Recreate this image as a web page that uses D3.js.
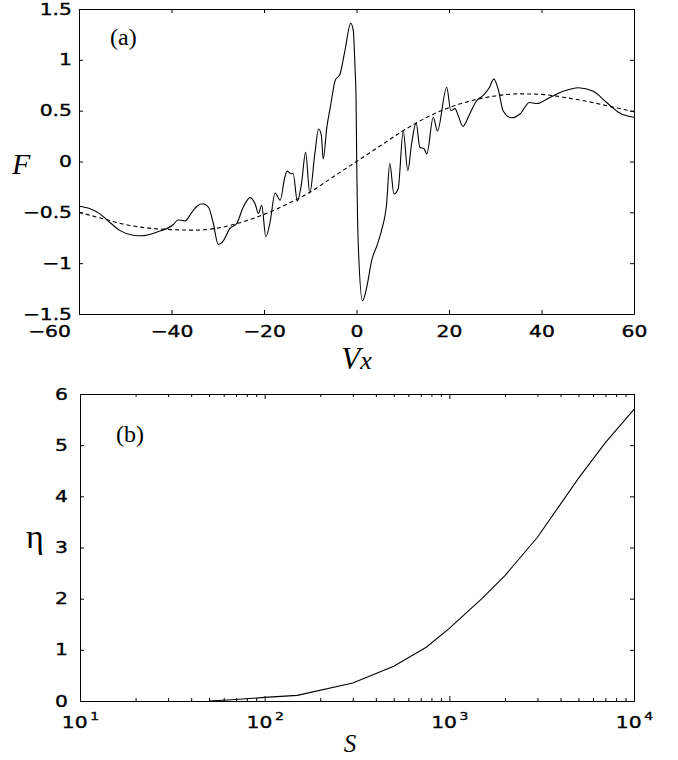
<!DOCTYPE html>
<html>
<head>
<meta charset="utf-8">
<script src="https://cdn.jsdelivr.net/npm/d3@7"></script>
<style>
	body { margin:0; background:#fff; }
	svg { display:block; }
	.domain, .tick line { stroke:#000; }
</style>
</head>
<body>
<svg id="chart" width="678" height="760"></svg>
<script>
// panel (a): F against Vx
const vxSolid = [-60,-57.6,-55.5,-53.3,-51.1,-48.3,-46.5,-43.2,-39.6,-38.6,-37.9,-37.1,-35.6,-34.5,-33.3,-32,-31,-29.9,-28.8,-27.4,-25.9,-24.5,-23,-21.9,-21.2,-20.5,-19.6,-18.7,-17.6,-16.5,-15.5,-15,-14.2,-13.7,-12.8,-11.9,-11,-10.1,-9,-8.2,-7.6,-7.2,-6.4,-5.6,-4.6,-3.6,-2.5,-1.25,-0.7,-0.3,-0.1,0.05,0.4,1.3,2.2,3.3,4.4,5.4,6.5,7.2,8.1,9,10.1,11.1,11.9,12.9,13.7,14.6,15.2,16.6,17.5,19.5,20.4,21.3,22,23,24.5,26,27.4,28.7,29.7,30.7,31.7,33.5,35.4,37.4,39,41.8,44.7,48,51.2,54.1,57,60];
const fSolid = [-0.44,-0.465,-0.515,-0.60,-0.68,-0.725,-0.73,-0.695,-0.62,-0.575,-0.578,-0.585,-0.50,-0.44,-0.415,-0.45,-0.60,-0.815,-0.78,-0.66,-0.61,-0.45,-0.355,-0.42,-0.51,-0.43,-0.74,-0.60,-0.31,-0.38,-0.155,-0.095,-0.12,-0.115,-0.39,-0.22,0.09,-0.31,0.08,0.32,0.26,0.025,0.34,0.55,0.80,0.855,1.09,1.36,1.29,0.9,0.63,0,-0.84,-1.37,-1.24,-0.97,-0.83,-0.68,-0.42,-0.02,-0.32,-0.27,0.30,-0.09,0.17,0.38,0.14,0.125,0.075,0.435,0.30,0.73,0.50,0.52,0.45,0.345,0.47,0.60,0.65,0.725,0.81,0.70,0.50,0.43,0.47,0.58,0.57,0.63,0.69,0.725,0.69,0.58,0.475,0.435];
const vxDashed = [-60,-55,-50,-45,-40,-35,-30,-25,-20,-15,-10,-5,0,5,10,15,20,25,30,35,40,45,50,55,60];
const fDashed = [-0.50,-0.56,-0.62,-0.655,-0.67,-0.675,-0.655,-0.60,-0.52,-0.42,-0.30,-0.15,0,0.15,0.30,0.43,0.53,0.60,0.645,0.665,0.66,0.63,0.59,0.54,0.49];
const vxTicks = [-60,-40,-20,0,20,40,60];
const fTicks = [-1.5,-1,-0.5,0,0.5,1,1.5];

// panel (b): eta against S (log axis)
const sValues = [50,70,100,150,300,500,750,1000,1500,2000,3000,5000,7000,10000];
const etaValues = [0,0.03,0.07,0.11,0.35,0.68,1.05,1.42,2.0,2.45,3.2,4.35,5.05,5.7];
const sTicks = [10,100,1000,10000];
const etaTicks = [0,1,2,3,4,5,6];

const svg = d3.select('#chart');
const STRETCH = 1.27; // tick labels are drawn wide in the original

// tick label look: wide, slightly heavy sans digits
function styleLabels(g, dx) {
	g.selectAll('.tick text')
		.attr('font-family','DejaVu Sans')
		.attr('font-size',16)
		.attr('fill','#000')
		.attr('stroke','#000')
		.attr('stroke-width',0.35)
		.attr('transform','scale('+STRETCH+',1)');
	if (dx !== undefined) g.selectAll('.tick text').attr('x', dx/STRETCH);
}

// ---------- (a) ----------
const A = {left:79, right:634, top:9, bottom:314};
const xA = d3.scaleLinear().domain([-60,60]).range([A.left,A.right]);
const yA = d3.scaleLinear().domain([-1.5,1.5]).range([A.bottom,A.top]);

const gA = svg.append('g');
const axA = gA.append('g').attr('transform',`translate(0,${A.bottom})`)
	.call(d3.axisBottom(xA).tickValues(vxTicks).tickSizeInner(-4).tickSizeOuter(0).tickPadding(12).tickFormat(d3.format('d')));
styleLabels(axA);
// the -60 label sits left of the frame in the original
axA.selectAll('.tick text').filter(d => d === -60).attr('x', -30/STRETCH);
gA.append('g').attr('transform',`translate(0,${A.top})`)
	.call(d3.axisTop(xA).tickValues(vxTicks).tickSizeInner(-4).tickSizeOuter(0).tickFormat(''));
const ayA = gA.append('g').attr('transform',`translate(${A.left},0)`)
	.call(d3.axisLeft(yA).tickValues(fTicks).tickSizeInner(-4).tickSizeOuter(0).tickFormat(d3.format('')));
styleLabels(ayA, -7);
gA.append('g').attr('transform',`translate(${A.right},0)`)
	.call(d3.axisRight(yA).tickValues(fTicks).tickSizeInner(-4).tickSizeOuter(0).tickFormat(''));
gA.selectAll('.tick text').text(function() { return d3.select(this).text().replace('-','\u2212'); });

const lineA = d3.line().x(d => xA(d[0])).y(d => yA(d[1])).curve(d3.curveMonotoneX);
gA.append('path')
	.datum(d3.zip(vxDashed,fDashed))
	.attr('fill','none').attr('stroke','#000').attr('stroke-width',1.1)
	.attr('stroke-dasharray','4,3')
	.attr('d', lineA);
gA.append('path')
	.datum(d3.zip(vxSolid,fSolid))
	.attr('fill','none').attr('stroke','#000').attr('stroke-width',1.1)
	.attr('d', lineA);

gA.append('text').attr('x',110).attr('y',45)
	.attr('font-family','Liberation Serif').attr('font-size',24).text('(a)');
gA.append('text').attr('x',12).attr('y',174)
	.attr('font-family','Liberation Serif').attr('font-style','italic').attr('font-size',30).text('F');
gA.append('text').attr('x',(A.left+A.right)/2).attr('y',369).attr('text-anchor','middle')
	.attr('font-family','Liberation Serif').attr('font-style','italic').attr('font-size',31)
	.call(t => {
		t.append('tspan').text('V');
		t.append('tspan').attr('font-size',26).text('x');
	});

// ---------- (b) ----------
const B = {left:80, right:634, top:394, bottom:701};
const xB = d3.scaleLog().domain([10,1e4]).range([B.left,B.right]);
const yB = d3.scaleLinear().domain([0,6]).range([B.bottom,B.top]);
const minorS = xB.ticks().filter(d => sTicks.indexOf(d) < 0);

const gB = svg.append('g');
[[B.bottom, d3.axisBottom], [B.top, d3.axisTop]].forEach(([y, ax]) => {
	gB.append('g').attr('transform',`translate(0,${y})`)
		.call(ax(xB).tickValues(minorS).tickSizeInner(-3).tickSizeOuter(0).tickFormat(''));
});
const axB = gB.append('g').attr('transform',`translate(0,${B.bottom})`)
	.call(d3.axisBottom(xB).tickValues(sTicks).tickSizeInner(-5).tickSizeOuter(0).tickPadding(16).tickFormat(''));
styleLabels(axB);
axB.selectAll('.tick text').each(function(d) {
	const t = d3.select(this);
	t.append('tspan').text('10');
	t.append('tspan').attr('dx',2).attr('dy',-8).attr('font-size',11).text(Math.round(Math.log10(d)));
});
gB.append('g').attr('transform',`translate(0,${B.top})`)
	.call(d3.axisTop(xB).tickValues(sTicks).tickSizeInner(-5).tickSizeOuter(0).tickFormat(''));
const ayB = gB.append('g').attr('transform',`translate(${B.left},0)`)
	.call(d3.axisLeft(yB).tickValues(etaTicks).tickSizeInner(-4).tickSizeOuter(0).tickFormat(d3.format('d')));
styleLabels(ayB, -12);
gB.append('g').attr('transform',`translate(${B.right},0)`)
	.call(d3.axisRight(yB).tickValues(etaTicks).tickSizeInner(-4).tickSizeOuter(0).tickFormat(''));

gB.append('path')
	.datum(d3.zip(sValues,etaValues))
	.attr('fill','none').attr('stroke','#000').attr('stroke-width',1.1)
	.attr('d', d3.line().x(d => xB(d[0])).y(d => yB(d[1])));

gB.append('text').attr('x',116).attr('y',442)
	.attr('font-family','Liberation Serif').attr('font-size',24).text('(b)');
gB.append('text').attr('x',35).attr('y',548).attr('text-anchor','middle')
	.attr('font-family','Liberation Serif').attr('font-size',34).text('\u03b7');
gB.append('text').attr('x',350).attr('y',752).attr('text-anchor','middle')
	.attr('font-family','Liberation Serif').attr('font-style','italic').attr('font-size',25).text('S');
</script>
</body>
</html>
